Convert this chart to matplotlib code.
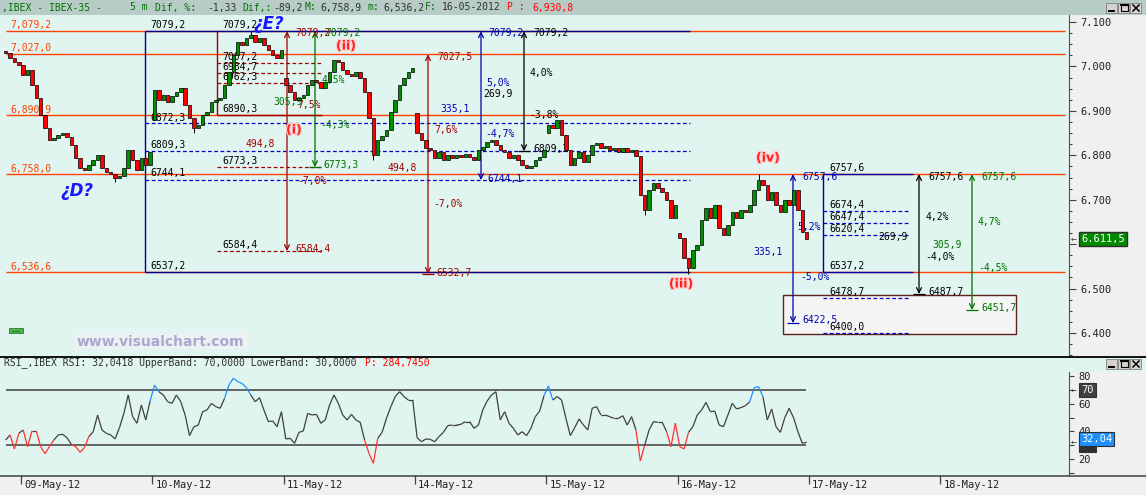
import numpy as np
import matplotlib
matplotlib.use("Agg")
import matplotlib.pyplot as plt
from matplotlib.patches import Rectangle
from matplotlib.collections import LineCollection
from matplotlib.ticker import MultipleLocator, FixedLocator, FuncFormatter
from matplotlib import transforms
import matplotlib.patheffects as pe

plt.rcParams['font.family'] = 'DejaVu Sans Mono'

# ---------------- data (5 m IBEX-35, one value per bar) ----------------
days = ['09-May-12', '10-May-12', '11-May-12', '14-May-12',
        '15-May-12', '16-May-12', '17-May-12', '18-May-12']
bars_per_day = 30
first_day_start = 3.5          # 4 bars of 08-May before the first tick

first_open = 7035
closes = [
    # 08-May
    7030, 7019, 7010, 7003,
    # 09-May
    6981, 6992, 6958, 6929, 6891, 6861, 6834, 6839, 6846, 6850,
    6841, 6823, 6794, 6771, 6767, 6778, 6789, 6801, 6771, 6762,
    6758, 6749, 6753, 6771, 6812, 6789, 6767, 6794, 6778, 6807,
    # 10-May
    6947, 6924, 6936, 6920, 6933, 6942, 6951, 6913, 6884, 6861,
    6868, 6891, 6897, 6920, 6924, 6930, 6958, 6987, 7026, 7055,
    7048, 7064, 7071, 7055, 7064, 7048, 7037, 7026, 7019, 7037,
    # 11-May
    6958, 6942, 6924, 6929, 6936, 6958, 6969, 6965, 6951, 6965,
    6987, 7014, 7010, 6992, 6983, 6978, 6987, 6974, 6942, 6884,
    6801, 6834, 6843, 6857, 6897, 6924, 6958, 6974, 6987, 6996,
    # 14-May
    6850, 6834, 6816, 6812, 6794, 6807, 6789, 6801, 6794, 6801,
    6796, 6803, 6796, 6789, 6812, 6819, 6830, 6834, 6823, 6812,
    6807, 6794, 6801, 6789, 6778, 6771, 6776, 6789, 6796, 6812,
    # 15-May
    6868, 6861, 6879, 6846, 6812, 6778, 6794, 6807, 6785, 6801,
    6823, 6827, 6816, 6821, 6812, 6816, 6807, 6816, 6807, 6812,
    6798, 6711, 6677, 6722, 6738, 6726, 6717, 6699, 6659, 6688,
    # 16-May
    6614, 6569, 6546, 6587, 6598, 6654, 6681, 6659, 6688, 6636,
    6621, 6643, 6672, 6659, 6677, 6672, 6688, 6722, 6744, 6733,
    6699, 6717, 6688, 6672, 6699, 6688, 6722, 6677, 6627, 6611.5,
]
gap_opens = {34: 6880, 64: 6975, 94: 6895, 124: 6850, 154: 6625}
wick_lows = {25: 6740, 43: 6850, 84: 6790, 146: 6665, 156: 6532.7}
wick_highs = {56: 7079.2, 172: 6757.6}

rsi = [
    33.6, 37.3, 27.1, 38.5,
    40.9, 28.8, 40.2, 40.2, 28.8, 23.7, 28.8, 33.6, 37.3, 37.8,
    35.3, 30.5, 28.8, 24.7, 28.1, 36.1, 39.7, 51.8, 40.9, 38.5,
    37.3, 34.4, 42.6, 53.0, 66.4, 50.6, 45.8, 59.1, 48.2, 62.0,
    73.6, 68.8, 66.4, 61.5, 60.3, 66.4, 61.5, 51.8, 36.8, 43.3,
    44.5, 54.2, 55.5, 60.3, 57.9, 56.7, 63.9, 73.6, 78.5, 76.1,
    74.8, 71.7, 66.4, 61.5, 64.4, 55.5, 47.0, 47.5, 43.3, 54.2,
    34.4, 34.8, 31.2, 39.2, 40.2, 53.0, 51.8, 52.3, 45.8, 48.2,
    59.1, 66.4, 60.3, 51.8, 48.2, 52.3, 48.2, 46.5, 33.6, 23.9,
    16.7, 34.8, 39.2, 49.4, 57.9, 65.2, 68.8, 65.2, 62.7, 62.7,
    35.3, 32.4, 34.4, 34.1, 32.4, 36.1, 39.2, 44.1, 44.5, 44.5,
    45.0, 47.0, 47.0, 42.1, 44.5, 55.5, 62.0, 66.4, 68.8, 48.2,
    54.2, 45.8, 42.1, 37.3, 39.7, 36.8, 42.1, 50.6, 54.7, 66.0,
    73.0, 62.7, 65.2, 62.7, 49.4, 36.8, 42.6, 48.9, 44.5, 40.9,
    56.7, 57.9, 51.8, 51.8, 50.6, 49.4, 49.4, 51.3, 44.5, 50.6,
    40.9, 18.4, 30.0, 40.9, 47.0, 46.5, 46.5, 39.7, 28.8, 45.8,
    28.8, 27.1, 39.2, 43.3, 51.8, 55.5, 61.0, 54.2, 54.7, 44.5,
    43.3, 51.8, 60.3, 56.2, 57.2, 58.6, 61.5, 71.7, 72.4, 65.2,
    48.2, 56.2, 43.3, 39.2, 49.9, 56.7, 49.9, 39.7, 31.2, 32.04,
]
upper_band, lower_band = 70, 30

# drawn levels
h_levels = [7079.2, 7027.0, 6890.9, 6758.0, 6536.6]
h_labels = ['7,079,2', '7,027,0', '6,890,9', '6,758,0', '6,536,6']
big_top, big_bottom = 7079.2, 6537.2
big_fibs = [6872.3, 6809.3, 6744.1]
red_base = 6890.3
red_fibs = [7007.2, 6984.7, 6962.3, 6773.3, 6584.4]
small_top, small_bottom = 6757.6, 6537.2
small_fibs = [6674.4, 6647.4, 6620.4, 6478.7, 6400.0]
box_levels = (6398.0, 6486.0)

# ---------------- layout helpers (pixels of the picture) ----------------
W, H = 1146, 495
X0, STEP = 5.68, 4.377
def bx(xp):
    return (xp - X0) / STEP
def py(yp):
    return 7100 - (yp - 22) * 2.2508
def ry(yp):
    return 70 - (yp - 390) / 1.375

MINT = '#e0f5ef'
OR, DR, G, B, K = '#ff4000', '#a00000', '#007000', '#0000b0', '#000000'

fig = plt.figure(figsize=(W / 100, H / 100), dpi=100)
fig.patch.set_facecolor('#f0f0f0')

# ---------------- price panel ----------------
ax = fig.add_axes([0, (H - 356) / H, 1069 / W, (356 - 15) / H])
ax.set_facecolor(MINT)
ax.set_xlim(bx(0), bx(1069))
ax.set_ylim(py(356), py(15))
for s in ('left', 'top', 'bottom'):
    ax.spines[s].set_visible(False)
ax.spines['right'].set_color('#505050')
ax.tick_params(axis='x', bottom=False, labelbottom=False)
ax.yaxis.tick_right()
ax.yaxis.set_major_locator(MultipleLocator(100))
ax.yaxis.set_minor_locator(MultipleLocator(25))
# the last-price box hides the nearest scale label
ax.yaxis.set_major_formatter(FuncFormatter(
    lambda v, p: '' if abs(v - closes[-1]) < 30 else f'{v / 1000:.3f}'))
ax.tick_params(axis='y', which='major', length=5, width=0.8, color='#404040',
               labelsize=7.5, labelcolor='#202020', pad=3)
ax.tick_params(axis='y', which='minor', length=2.5, width=0.8, color='#404040')

# target box
ax.add_patch(Rectangle((bx(783), box_levels[0]), bx(1016) - bx(783),
                       box_levels[1] - box_levels[0], fc='#f5f5f5',
                       ec='#602020', lw=1.0, zorder=1.5))

# orange horizontal levels
ax.hlines(h_levels, bx(6), bx(1065), color=OR, lw=1.0, zorder=1.8)

# big blue retracement
ax.hlines([big_top, big_bottom], bx(145), bx(690), color='#000090', lw=1.0, zorder=2)
ax.vlines(bx(145), big_bottom, big_top, color='#000090', lw=1.0, zorder=2)
ax.hlines(big_fibs, bx(145), bx(690), color='#0000cc', lw=0.9,
          linestyles=[(0, (3, 2))], zorder=2)

# dark red retracement
ax.vlines(bx(217), red_base, big_top, color=DR, lw=1.0, zorder=2)
ax.hlines(red_base, bx(217), bx(322), color=DR, lw=1.0, zorder=2)
ax.hlines(red_fibs, bx(217), bx(322), color=DR, lw=0.9,
          linestyles=[(0, (3, 2))], zorder=2)

# small blue retracement
ax.vlines(bx(823), small_bottom, small_top, color='#0000a0', lw=1.0, zorder=2)
ax.hlines([small_top, small_bottom], bx(823), bx(913), color='#0000a0', lw=1.0, zorder=2)
ax.hlines(small_fibs, bx(823), bx(910), color='#0000cc', lw=0.9,
          linestyles=[(0, (3, 2))], zorder=2)

# measuring arrows
def measure(xp, top, bottom, color, tee=False):
    x = bx(xp)
    ax.annotate('', xy=(x, bottom), xytext=(x, top), zorder=2.2,
                arrowprops=dict(arrowstyle='<->,head_length=0.45,head_width=0.22',
                                color=color, lw=0.9, shrinkA=0, shrinkB=0,
                                mutation_scale=8))
    if tee:
        ax.hlines(bottom, x - 1.4, x + 1.4, color=color, lw=0.9, zorder=2.2)

measure(287, 7079.2, 6584.4, DR)
measure(315, 7079.2, 6773.3, G, tee=True)
measure(428, 7027.5, 6532.7, DR, tee=True)
measure(481, 7079.2, 6744.1, B)
measure(524, 7079.2, 6809.3, K, tee=True)
measure(793, 6757.6, 6422.5, B, tee=True)
measure(919, 6757.6, 6487.7, K, tee=True)
measure(972, 6757.6, 6451.7, G, tee=True)

# labels of the drawing tools
notes = [
    (150, 25, '7079,2', K), (150, 118, '6872,3', K), (150, 145, '6809,3', K),
    (150, 173, '6744,1', K), (150, 266, '6537,2', K),
    (222, 25, '7079,2', K), (222, 57, '7007,2', K), (222, 67, '6984,7', K),
    (222, 77, '6962,3', K), (222, 109, '6890,3', K), (222, 161, '6773,3', K),
    (222, 245, '6584,4', K),
    (295, 33, '7079,2', DR), (297, 105, '7,5%', DR), (246, 144, '494,8', DR),
    (297, 181, '-7,0%', DR), (295, 249, '6584,4', DR),
    (325, 33, '7079,2', G), (321, 80, '4,5%', G), (273, 102, '305,9', G),
    (320, 125, '-4,3%', G), (323, 165, '6773,3', G),
    (437, 57, '7027,5', DR), (434, 130, '7,6%', DR), (388, 168, '494,8', DR),
    (433, 204, '-7,0%', DR), (436, 273, '6532,7', DR),
    (488, 33, '7079,2', B), (486, 83, '5,0%', B), (440, 109, '335,1', B),
    (485, 134, '-4,7%', B), (487, 179, '6744,1', B),
    (533, 33, '7079,2', K), (529, 73, '4,0%', K), (483, 94, '269,9', K),
    (529, 115, '-3,8%', K), (533, 149, '6809,3', K),
    (802, 177, '6757,6', B), (797, 227, '5,2%', B), (753, 252, '335,1', B),
    (800, 277, '-5,0%', B), (802, 320, '6422,5', B),
    (829, 168, '6757,6', K), (829, 205, '6674,4', K), (829, 217, '6647,4', K),
    (829, 229, '6620,4', K), (829, 266, '6537,2', K), (829, 292, '6478,7', K),
    (829, 327, '6400,0', K), (878, 237, '269,9', K),
    (928, 177, '6757,6', K), (925, 217, '4,2%', K), (925, 257, '-4,0%', K),
    (928, 292, '6487,7', K), (932, 245, '305,9', G),
    (981, 177, '6757,6', G), (978, 222, '4,7%', G), (978, 268, '-4,5%', G),
    (981, 308, '6451,7', G),
]
for xp, yp, s, c in notes:
    ax.text(bx(xp), py(yp), s, color=c, fontsize=7, ha='left', va='center', zorder=2.5)
for lev, s, yp in zip(h_levels, h_labels, (25, 48, 110, 169, 267)):
    ax.text(bx(10), py(yp), s, color=OR, fontsize=7, ha='left', va='center', zorder=2.5)

# candles
idx = np.arange(len(closes))
c = np.array(closes, dtype=float)
o = np.array([first_open] + closes[:-1], dtype=float)
for k, v in gap_opens.items():
    o[k] = v
hi = np.maximum(o, c)
lo = np.minimum(o, c)
for k, v in wick_lows.items():
    lo[k] = v
for k, v in wick_highs.items():
    hi[k] = v
ax.vlines(idx, lo, hi, color='black', lw=0.7, zorder=3)
up = c >= o
ax.bar(idx, np.maximum(np.abs(c - o), 1.5), bottom=np.minimum(o, c), width=0.8,
       color=np.where(up, '#009000', '#ff0000'), edgecolor='black', linewidth=0.5,
       zorder=3.1)

# wave labels
for xp, yp, s in ((294, 130, '(i)'), (346, 46, '(ii)'), (681, 284, '(iii)'), (768, 158, '(iv)')):
    ax.text(bx(xp), py(yp), s, color='#ff2020', fontsize=9, fontweight='bold',
            family='DejaVu Sans', ha='center', va='center', zorder=4,
            path_effects=[pe.withStroke(linewidth=1.8, foreground='#ffcccc')])
for xp, yp, s in ((269, 24, '¿E?'), (77, 191, '¿D?')):
    ax.text(bx(xp), py(yp), s, color='#1818ff', fontsize=12, fontweight='bold',
            style='italic', family='DejaVu Sans', ha='center', va='center', zorder=4)

# last price marker
def eu(v):
    return f'{v:,.1f}'.replace(',', 'X').replace('.', ',').replace('X', '.')

tr = transforms.blended_transform_factory(ax.transAxes, ax.transData)
ax.text(1 + 2 / 1069, closes[-1], '←', transform=tr, fontsize=7, color='#404040',
        ha='left', va='center', clip_on=False, zorder=5)
ax.text(1 + 12 / 1069, closes[-1], eu(closes[-1]), transform=tr, fontsize=7.5,
        color='white', ha='left', va='center', clip_on=False, zorder=5,
        bbox=dict(boxstyle='square,pad=0.2', fc='#008a00', ec='#303030', lw=1))

# ---------------- RSI panel ----------------
ar = fig.add_axes([0, (H - 475) / H, 1069 / W, (475 - 357) / H])
ar.set_facecolor(MINT)
ar.set_xlim(bx(0), bx(1069))
ar.set_ylim(ry(475), ry(357))
for s in ('left', 'top', 'bottom'):
    ar.spines[s].set_visible(False)
ar.spines['right'].set_color('#505050')
ar.spines['right'].set_bounds(ry(475), ry(372))
ar.yaxis.tick_right()
ar.yaxis.set_major_locator(FixedLocator([20, 40, 60, 80]))
ar.yaxis.set_minor_locator(FixedLocator([10, 30, 50, 70]))
ar.tick_params(axis='y', which='both', length=3.5, width=0.8, color='#404040',
               labelsize=7.5, labelcolor='#202020', pad=3)

day_ticks = [first_day_start + bars_per_day * k for k in range(len(days))]
ar.set_xticks(day_ticks)
ar.tick_params(axis='x', direction='out', length=6.5, width=0.9, color='#404040',
               labelbottom=False)
for t, d in zip(day_ticks, days):
    ar.text(t + 0.7, -0.085, d, transform=ar.get_xaxis_transform(), fontsize=7.5,
            color='#202020', ha='left', va='center', clip_on=False)

ar.hlines([upper_band, lower_band], bx(6), bx(806), color='#404040', lw=1.1, zorder=2)
r = np.array(rsi)
segs = np.stack([np.column_stack([idx[:-1], r[:-1]]), np.column_stack([idx[1:], r[1:]])], axis=1)
cols = []
for a, b in zip(r[:-1], r[1:]):
    if max(a, b) > upper_band:
        cols.append('#1e8fff')
    elif min(a, b) < lower_band:
        cols.append('#ff3030')
    else:
        cols.append('#404040')
ar.add_collection(LineCollection(segs, colors=cols, linewidths=0.9, zorder=3))

tr2 = transforms.blended_transform_factory(ar.transAxes, ar.transData)
# band markers, the current value box sits on top of the lower band one
ar.text(1 + 12 / 1069, lower_band, '  ', transform=tr2, fontsize=7.5, color='white',
        ha='left', va='center', clip_on=False, zorder=5,
        bbox=dict(boxstyle='square,pad=0.2', fc='#303030', ec='#303030', lw=0.8))
for val, s, fc, dy in ((upper_band, '70', '#404040', 0),
                       (rsi[-1], f'{rsi[-1]:.2f}'.replace('.', ','), '#1e90ff', 2.2)):
    ar.text(1 + 2 / 1069, val, '←', transform=tr2, fontsize=7, color='#404040',
            ha='left', va='center', clip_on=False, zorder=5)
    ar.text(1 + 12 / 1069, val + dy, s, transform=tr2, fontsize=7.5, color='white',
            ha='left', va='center', clip_on=False, zorder=5,
            bbox=dict(boxstyle='square,pad=0.2', fc=fc, ec='#303030', lw=0.8))

# ---------------- frame, title bar, buttons ----------------
ov = fig.add_axes([0, 0, 1, 1], zorder=10)
ov.set_xlim(0, W)
ov.set_ylim(H, 0)
ov.axis('off')
ov.add_patch(Rectangle((0, 0), W, 15, fc='#b8ccc7', ec='none'))
ov.add_patch(Rectangle((1069, 357), W - 1069, 15, fc=MINT, ec='none'))
ov.plot([0, W], [356.5, 356.5], color='black', lw=1.3)
ov.plot([0, W], [475.5, 475.5], color='#404040', lw=1.1)

def buttons(y):
    for x in (1106, 1118, 1130):
        ov.add_patch(Rectangle((x, y), 11, 10, fc='#d6d3ce', ec='#808080', lw=0.6))
    ov.plot([1108.5, 1113.5], [y + 8, y + 8], color='black', lw=1.4)
    ov.add_patch(Rectangle((1120.5, y + 2), 7, 6, fc='none', ec='black', lw=0.8))
    ov.plot([1120.5, 1127.5], [y + 2.4, y + 2.4], color='black', lw=1.4)
    ov.plot([1133, 1139], [y + 2, y + 8], color='black', lw=1.1)
    ov.plot([1133, 1139], [y + 8, y + 2], color='black', lw=1.1)

buttons(3)
buttons(359)

title = [(2, ',IBEX - IBEX-35 -', G), (130, '5 m', G), (155, 'Dif, %:', G),
         (207, '-1,33', '#303030'), (242, 'Dif,:', G), (273, '-89,2', '#303030'),
         (305, 'M:', G), (320, '6,758,9', '#303030'), (367, 'm:', G),
         (383, '6,536,2', '#303030'), (425, 'F:', G), (442, '16-05-2012', '#303030'),
         (507, 'P :', '#ff0000'), (532, '6,930,8', '#ff0000')]
for xp, s, col in title:
    ov.text(xp, 7.5, s, color=col, fontsize=7, ha='left', va='center')

ov.text(4, 363, 'RSI_,IBEX RSI: 32,0418 UpperBand: 70,0000 LowerBand: 30,0000',
        color='#303030', fontsize=7, ha='left', va='center')
ov.text(365, 363, 'P: 284,7450', color='#ff0000', fontsize=7, ha='left', va='center')

# watermark and small marker
ov.add_patch(Rectangle((73, 333), 174, 16, fc='#eef1f4', ec='none'))
ov.text(160, 341.5, 'www.visualchart.com', color='#a9a9cf', fontsize=10,
        fontweight='bold', family='DejaVu Sans', ha='center', va='center')
ov.add_patch(Rectangle((9, 328), 14, 5, fc='#4cb84c', ec='#2a7a2a', lw=0.6))
ov.plot([12, 20], [330.5, 330.5], color='#205020', lw=0.8, ls=(0, (1.5, 1)))

fig.savefig('out.png', dpi=100)
